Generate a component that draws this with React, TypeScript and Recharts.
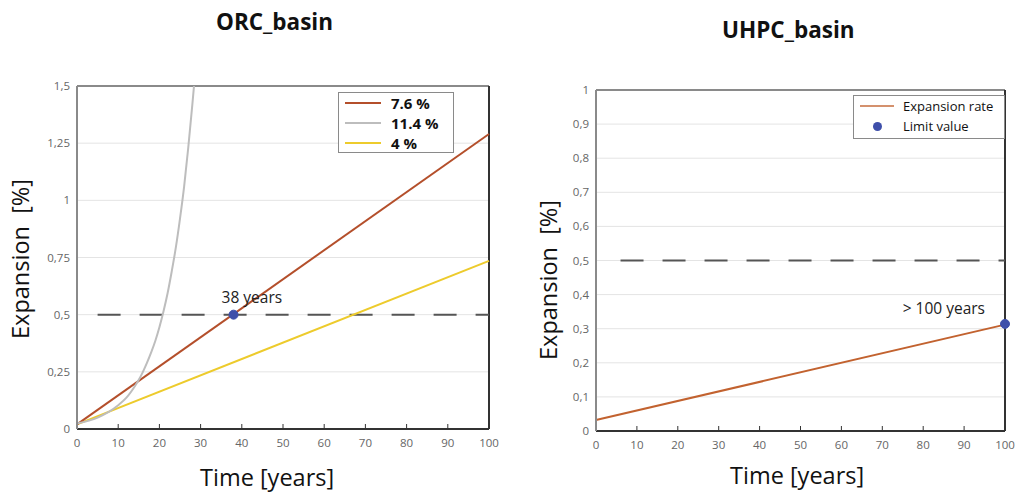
import React from 'react';
import {
  ComposedChart,
  Line,
  XAxis,
  YAxis,
  CartesianGrid,
  ReferenceLine,
  ReferenceDot,
} from 'recharts';

// ---------- data: ORC_basin ----------
const orcSeriesNames = ['7.6 %', '11.4 %', '4 %'];
const orcSeries76 = [
  { t: 0, v: 0.02 },
  { t: 100, v: 1.29 },
];
const orcSeries114 = [
  { t: 0, v: 0.024 },
  { t: 5, v: 0.05 },
  { t: 10, v: 0.104 },
  { t: 12, v: 0.137 },
  { t: 14, v: 0.186 },
  { t: 15, v: 0.215 },
  { t: 16, v: 0.25 },
  { t: 17, v: 0.29 },
  { t: 18, v: 0.335 },
  { t: 19, v: 0.385 },
  { t: 20, v: 0.445 },
  { t: 21, v: 0.515 },
  { t: 22, v: 0.595 },
  { t: 23, v: 0.69 },
  { t: 24, v: 0.795 },
  { t: 25, v: 0.92 },
  { t: 26, v: 1.06 },
  { t: 27, v: 1.23 },
  { t: 28, v: 1.42 },
  { t: 28.4, v: 1.5 },
];
const orcSeries4 = [
  { t: 0, v: 0.02 },
  { t: 100, v: 0.735 },
];
const orcLimit = [
  { t: 5, v: 0.5 },
  { t: 100, v: 0.5 },
];
const orcLimitPoint = { t: 38, v: 0.5, label: '38 years' };
const orcYTicks = [0, 0.25, 0.5, 0.75, 1, 1.25, 1.5];

// ---------- data: UHPC_basin ----------
const uhpcSeriesNames = ['Expansion rate', 'Limit value'];
const uhpcRate = [
  { t: 0, v: 0.032 },
  { t: 100, v: 0.312 },
];
const uhpcLimit = [
  { t: 6, v: 0.5 },
  { t: 100, v: 0.5 },
];
const uhpcLimitPoint = { t: 100, v: 0.314, label: '> 100 years' };
const uhpcYTicks = [0, 0.1, 0.2, 0.3, 0.4, 0.5, 0.6, 0.7, 0.8, 0.9, 1];

const xTicks = [0, 10, 20, 30, 40, 50, 60, 70, 80, 90, 100];

// ---------- styles ----------
const FONT = '"Open Sans", "Noto Sans", sans-serif';
const C_BROWN = '#B44F2B';
const C_GRAY = '#BDBDBD';
const C_YELLOW = '#EDCB2C';
const C_RATE = '#C2622F';
const C_DOT = '#3E4FAA';
const C_DASH = '#555555';
const tickStyle = { fontSize: 11.5, fill: '#666', fontFamily: FONT };
const fmt = (v: number) => String(v).replace('.', ',');

const abs = (left: number, top: number, extra: React.CSSProperties = {}): React.CSSProperties => ({
  position: 'absolute',
  left,
  top,
  fontFamily: FONT,
  color: '#111',
  whiteSpace: 'nowrap',
  ...extra,
});

const DotLabel = (text: string, dx: number, dy: number, anchor: 'start' | 'end') => (props: any) => {
  const { viewBox } = props;
  const cx = viewBox.x + (viewBox.width || 0) / 2;
  const cy = viewBox.y + (viewBox.height || 0) / 2;
  return (
    <text x={cx + dx} y={cy + dy} textAnchor={anchor} fontSize={15.5} fill="#222" fontFamily={FONT}>
      {text}
    </text>
  );
};

const xAxisCommon = {
  dataKey: 't',
  type: 'number' as const,
  domain: [0, 100],
  ticks: xTicks,
  allowDuplicatedCategory: false,
  height: 30,
  tick: tickStyle,
  tickSize: -5,
  tickMargin: 15,
  tickLine: { stroke: '#333', strokeWidth: 1 },
  axisLine: { stroke: '#333', strokeWidth: 2 },
  interval: 0 as const,
};

export default function App() {
  return (
    <div style={{ position: 'absolute', left: 0, top: 0, width: 1017, height: 494, background: '#fff', overflow: 'hidden' }}>
      {/* Left chart */}
      <div style={abs(0, 0)}>
        <ComposedChart width={510} height={494} margin={{ top: 86, right: 21, left: 0, bottom: 35 }}>
          <CartesianGrid horizontal vertical={false} stroke="#e4e4e4" strokeWidth={1} />
          <XAxis {...xAxisCommon} />
          <YAxis
            type="number"
            domain={[0, 1.5]}
            ticks={orcYTicks}
            allowDataOverflow
            width={77}
            tick={tickStyle}
            tickFormatter={fmt}
            tickLine={false}
            tickSize={0}
            tickMargin={7}
            axisLine={{ stroke: '#8a8a8a', strokeWidth: 2 }}
            interval={0}
          />
          <ReferenceLine y={1.5} stroke="#8a8a8a" strokeWidth={2} />
          <ReferenceLine x={100} stroke="#333" strokeWidth={2} />
          <Line data={orcLimit} dataKey="v" stroke={C_DASH} strokeWidth={2} strokeDasharray="23 19" dot={false} isAnimationActive={false} />
          <Line data={orcSeries4} dataKey="v" name={orcSeriesNames[2]} stroke={C_YELLOW} strokeWidth={2} dot={false} isAnimationActive={false} />
          <Line data={orcSeries76} dataKey="v" name={orcSeriesNames[0]} stroke={C_BROWN} strokeWidth={2} dot={false} isAnimationActive={false} />
          <Line data={orcSeries114} dataKey="v" name={orcSeriesNames[1]} stroke={C_GRAY} strokeWidth={2} dot={false} type="monotone" isAnimationActive={false} />
          <ReferenceDot
            x={orcLimitPoint.t}
            y={orcLimitPoint.v}
            r={4.5}
            fill={C_DOT}
            stroke={C_DOT}
            label={DotLabel(orcLimitPoint.label, -12, -12, 'start')}
          />
        </ComposedChart>
      </div>

      {/* Right chart */}
      <div style={abs(510, 0)}>
        <ComposedChart width={507} height={494} margin={{ top: 90, right: 12, left: 0, bottom: 33 }}>
          <CartesianGrid horizontal vertical={false} stroke="#e4e4e4" strokeWidth={1} />
          <XAxis {...xAxisCommon} />
          <YAxis
            type="number"
            domain={[0, 1]}
            ticks={uhpcYTicks}
            allowDataOverflow
            width={86}
            tick={tickStyle}
            tickFormatter={fmt}
            tickLine={false}
            tickSize={0}
            tickMargin={7}
            axisLine={{ stroke: '#8a8a8a', strokeWidth: 2 }}
            interval={0}
          />
          <ReferenceLine y={1} stroke="#8a8a8a" strokeWidth={2} />
          <ReferenceLine x={100} stroke="#333" strokeWidth={2} />
          <Line data={uhpcLimit} dataKey="v" stroke={C_DASH} strokeWidth={2} strokeDasharray="23 19" dot={false} isAnimationActive={false} />
          <Line data={uhpcRate} dataKey="v" name={uhpcSeriesNames[0]} stroke={C_RATE} strokeWidth={2} dot={false} isAnimationActive={false} />
          <ReferenceDot
            x={uhpcLimitPoint.t}
            y={uhpcLimitPoint.v}
            r={4.5}
            fill={C_DOT}
            stroke={C_DOT}
            label={DotLabel(uhpcLimitPoint.label, -20, -10, 'end')}
          />
        </ComposedChart>
      </div>

      {/* Titles */}
      <div style={abs(216, 6, { fontSize: 22.5, fontWeight: 700 })}>ORC_basin</div>
      <div style={abs(722, 14, { fontSize: 22.5, fontWeight: 700 })}>UHPC_basin</div>

      {/* Axis titles */}
      <div style={abs(200, 461, { fontSize: 23.5 })}>Time [years]</div>
      <div style={abs(730, 459, { fontSize: 23.5 })}>Time [years]</div>
      <div style={abs(20, 259, { fontSize: 23.5, transform: 'translate(-50%, -50%) rotate(-90deg)' })}>
        Expansion&nbsp;&nbsp;[%]
      </div>
      <div style={abs(548, 280, { fontSize: 23.5, transform: 'translate(-50%, -50%) rotate(-90deg)' })}>
        Expansion&nbsp;&nbsp;[%]
      </div>

      {/* Left legend */}
      <div style={abs(338, 92, { width: 116, height: 61, border: '1.5px solid #8a8a8a', background: '#fff', boxSizing: 'border-box' })}>
        {[C_BROWN, C_GRAY, C_YELLOW].map((c, i) => (
          <div key={i} style={{ position: 'absolute', left: 6, top: 0 + i * 20, height: 20, display: 'flex', alignItems: 'center' }}>
            <div style={{ width: 36, height: 2, background: c, marginRight: 10 }} />
            <span style={{ fontSize: 15, fontWeight: 700, color: '#111' }}>{orcSeriesNames[i]}</span>
          </div>
        ))}
      </div>

      {/* Right legend */}
      <div style={abs(853, 95, { width: 152, height: 44, border: '1.5px solid #8a8a8a', background: '#fff', boxSizing: 'border-box' })}>
        <div style={{ position: 'absolute', left: 6, top: 0, height: 19, display: 'flex', alignItems: 'center' }}>
          <div style={{ width: 34, height: 2, background: C_RATE, opacity: 0.7, marginRight: 9 }} />
          <span style={{ fontSize: 13, color: '#111' }}>{uhpcSeriesNames[0]}</span>
        </div>
        <div style={{ position: 'absolute', left: 6, top: 20, height: 20, display: 'flex', alignItems: 'center' }}>
          <div style={{ width: 34, height: 10, marginRight: 9, display: 'flex', justifyContent: 'center', alignItems: 'center' }}>
            <div style={{ width: 9, height: 9, borderRadius: '50%', background: C_DOT }} />
          </div>
          <span style={{ fontSize: 13, color: '#111' }}>{uhpcSeriesNames[1]}</span>
        </div>
      </div>
    </div>
  );
}
